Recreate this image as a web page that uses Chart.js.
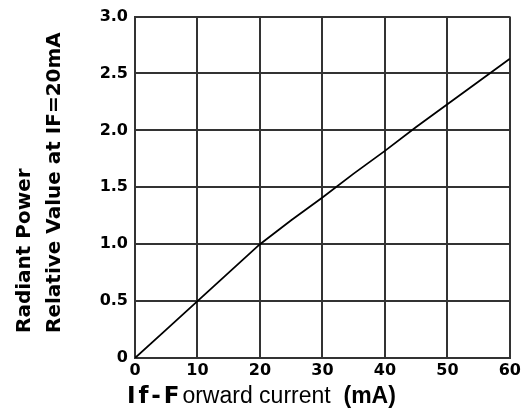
<!DOCTYPE html>
<html>
<head>
<meta charset="utf-8">
<script src="https://cdn.jsdelivr.net/npm/chart.js@4.4.1/dist/chart.umd.min.js"></script>
<style>
  html, body { margin: 0; padding: 0; background: #ffffff; }
  #wrap { width: 524px; height: 412px; }
</style>
</head>
<body>
<div id="wrap"><canvas id="c" width="524" height="412"></canvas></div>
<script>
// Forward current If (mA)
const currentMA = [0, 5, 10, 15, 20, 25, 30, 35, 40, 45, 50, 55, 60];
// Radiant power relative value at IF=20mA
const relativePower = [0, 0.25, 0.5, 0.75, 1.0, 1.21, 1.41, 1.62, 1.82, 2.03, 2.23, 2.43, 2.63];

const yTitleLines = ['Radiant Power', 'Relative Value at IF=20mA'];
const xTitleParts = ['If-F', 'orward current  ', '(mA)'];

const points = currentMA.map((x, i) => ({ x: x, y: relativePower[i] }));

const titlePlugin = {
  id: 'titles',
  afterDraw(chart) {
    const ctx = chart.ctx;
    const a = chart.chartArea;
    ctx.save();
    ctx.fillStyle = '#000';
    // Y title: two rotated lines, reading bottom to top
    ctx.font = 'bold 20px "DejaVu Sans"';
    ctx.textAlign = 'left';
    ctx.textBaseline = 'alphabetic';
    const startY = a.bottom - 25;
    [[yTitleLines[0], a.left - 105], [yTitleLines[1], a.left - 75]].forEach(([t, bx]) => {
      ctx.save();
      ctx.translate(bx, startY);
      ctx.rotate(-Math.PI / 2);
      ctx.fillText(t, 0, 0);
      ctx.restore();
    });
    // X title: mixed weights
    let x = a.left - 8;
    const base = a.bottom + 45;
    ctx.font = 'bold 23px "DejaVu Sans"';
    ctx.letterSpacing = '3px';
    ctx.fillText(xTitleParts[0], x, base);
    x += ctx.measureText(xTitleParts[0]).width;
    ctx.letterSpacing = '0px';
    ctx.font = '23px "Liberation Sans"';
    ctx.fillText(xTitleParts[1], x, base);
    x += ctx.measureText(xTitleParts[1]).width;
    ctx.font = 'bold 23px "Liberation Sans"';
    ctx.fillText(xTitleParts[2], x, base);
    ctx.restore();
  }
};

new Chart(document.getElementById('c'), {
  type: 'line',
  data: {
    datasets: [{
      data: points,
      borderColor: '#000',
      borderWidth: 1.8,
      pointRadius: 0,
      tension: 0,
      fill: false
    }]
  },
  options: {
    responsive: false,
    devicePixelRatio: 1,
    animation: false,
    layout: { padding: { top: 14, right: 11, left: 0, bottom: 0 } },
    plugins: { legend: { display: false }, tooltip: { enabled: false } },
    scales: {
      x: {
        type: 'linear',
        min: 0, max: 60,
        ticks: {
          stepSize: 10,
          color: '#000',
          padding: 3,
          maxRotation: 0,
          font: { family: 'DejaVu Sans', weight: 'bold', size: 16 }
        },
        grid: { color: '#333', lineWidth: 2, drawTicks: false },
        border: { color: '#333', width: 2 },
        afterFit(scale) { scale.height = 54; }
      },
      y: {
        min: 0, max: 3.0,
        ticks: {
          stepSize: 0.5,
          color: '#000',
          padding: 7,
          font: { family: 'DejaVu Sans', weight: 'bold', size: 16 },
          callback: (v) => v === 0 ? '0' : v.toFixed(1)
        },
        grid: { color: '#333', lineWidth: 2, drawTicks: false },
        border: { color: '#333', width: 2 },
        afterFit(scale) { scale.width = 135; }
      }
    }
  },
  plugins: [titlePlugin]
});
</script>
</body>
</html>
